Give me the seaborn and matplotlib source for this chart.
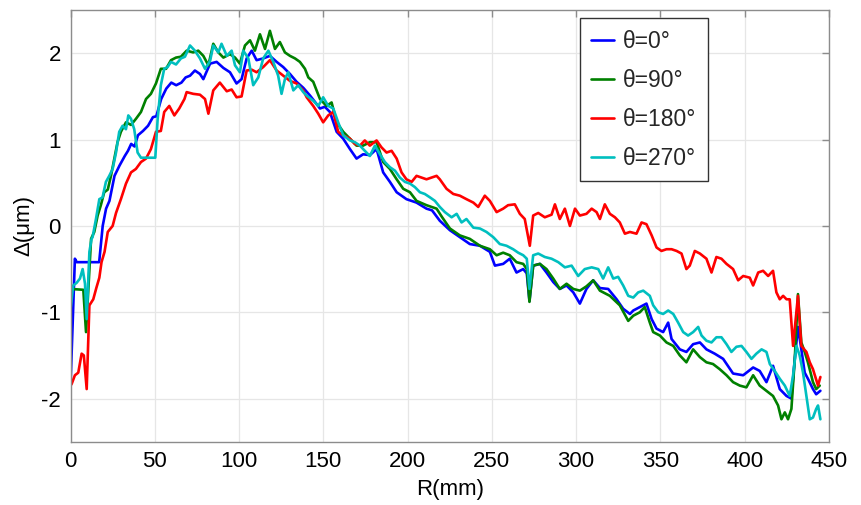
import numpy as np
import pandas as pd
import matplotlib
matplotlib.use("Agg")
import matplotlib.pyplot as plt
import seaborn as sns

labels = ["θ=0°", "θ=90°", "θ=180°", "θ=270°"]
colors = ["#0000FF", "#008000", "#FF0000", "#00BFBF"]
x_ticks = [0, 50, 100, 150, 200, 250, 300, 350, 400, 450]
y_ticks = [-2, -1, 0, 1, 2]

r_0 = [0, 2.6, 3.7, 17.0, 19.1, 21.1, 23.1, 26.1, 29.1, 32.2, 34.1, 36.0, 38.0, 40.0, 43.0, 46.0,
       48.9, 50.9, 53.8, 56.8, 59.8, 62.7, 65.8, 68.3, 70.9, 73.8, 76.8, 78.8, 82.8, 86.7, 90.7,
       94.6, 98.5, 101.5, 104.5, 107.5, 110.4, 114.3, 118.3, 122.3, 126.2, 130.2, 134.1, 138.1,
       142.1, 144.9, 148.0, 150.9, 153.9, 157.9, 161.8, 165.8, 169.7, 173.6, 177.6, 181.6, 185.5,
       189.5, 193.5, 199.3, 205.3, 211.2, 214.5, 219.1, 225.1, 231.0, 236.9, 242.9, 248.8, 251.8,
       256.7, 260.6, 264.6, 268.6, 270.7, 272.3, 274.5, 278.5, 282.4, 286.4, 290.3, 294.3, 298.3,
       302.2, 306.1, 310.1, 314.1, 319.0, 324.0, 327.9, 331.9, 333.9, 337.8, 341.7, 344.8, 347.7,
       351.6, 354.6, 356.6, 361.5, 365.4, 369.4, 373.4, 377.3, 382.2, 387.2, 393.1, 399.1, 405.0,
       408.9, 412.9, 416.8, 420.8, 424.8, 427.7, 429.7, 431.6, 433.6, 435.6, 437.5, 440.5, 442.4,
       444.9]
d_0 = [-1.85, -0.38, -0.42, -0.42, 0.0, 0.20, 0.29, 0.58, 0.70, 0.81, 0.87, 0.95, 0.92, 1.05, 1.10,
       1.16, 1.26, 1.27, 1.47, 1.59, 1.66, 1.63, 1.66, 1.72, 1.74, 1.80, 1.76, 1.70, 1.88, 1.90,
       1.83, 1.78, 1.65, 1.70, 1.94, 2.03, 1.92, 1.94, 1.97, 1.90, 1.84, 1.76, 1.67, 1.60, 1.51,
       1.44, 1.36, 1.38, 1.32, 1.09, 1.01, 0.89, 0.78, 0.83, 0.82, 0.89, 0.62, 0.51, 0.39, 0.31,
       0.27, 0.20, 0.18, 0.06, -0.05, -0.13, -0.21, -0.23, -0.30, -0.46, -0.44, -0.38, -0.54, -0.50,
       -0.55, -0.87, -0.46, -0.44, -0.54, -0.65, -0.73, -0.69, -0.77, -0.90, -0.73, -0.63, -0.72,
       -0.73, -0.85, -0.96, -1.02, -0.98, -0.94, -0.90, -1.08, -1.19, -1.23, -1.12, -1.31, -1.43,
       -1.46, -1.37, -1.35, -1.43, -1.48, -1.54, -1.71, -1.73, -1.64, -1.68, -1.81, -1.62, -1.89,
       -1.97, -2.00, -1.54, -1.17, -1.43, -1.70, -1.77, -1.89, -1.95, -1.91]

r_90 = [0, 7.6, 9.2, 12.2, 14.1, 16.1, 18.0, 20.0, 22.1, 24.0, 26.0, 27.9, 29.9, 32.9, 35.9, 38.8,
        41.8, 44.8, 47.7, 50.7, 53.6, 56.7, 59.6, 62.6, 65.5, 68.9, 72.8, 75.8, 78.8, 81.8, 84.7,
        87.7, 90.7, 94.6, 97.6, 100.5, 103.5, 106.5, 109.4, 112.4, 115.4, 118.3, 121.3, 124.2,
        127.2, 130.2, 133.2, 136.1, 139.1, 141.1, 144.0, 148.0, 151.9, 154.9, 157.9, 161.8, 165.8,
        169.7, 173.6, 177.6, 181.6, 185.5, 189.5, 193.5, 197.4, 201.4, 205.3, 211.2, 217.2, 220.5,
        225.1, 231.0, 236.9, 242.9, 248.8, 252.8, 256.7, 260.6, 264.6, 268.6, 270.7, 272.3, 274.5,
        278.5, 282.4, 286.4, 290.3, 294.3, 298.3, 302.2, 306.1, 310.1, 314.1, 320.0, 325.9, 330.9,
        333.9, 337.8, 340.7, 343.7, 345.7, 349.7, 353.6, 357.6, 361.5, 365.4, 369.4, 373.4, 377.3,
        381.2, 385.2, 389.2, 393.1, 397.1, 401.0, 405.0, 408.9, 412.9, 416.8, 419.8, 421.8, 423.8,
        425.7, 427.7, 429.7, 431.6, 433.6, 435.6, 437.5, 440.5, 442.4, 444.5]
d_90 = [-0.73, -0.74, -1.23, -0.15, -0.07, 0.12, 0.24, 0.39, 0.42, 0.58, 0.78, 0.97, 1.09, 1.20,
        1.17, 1.24, 1.32, 1.47, 1.53, 1.65, 1.82, 1.82, 1.92, 1.95, 1.96, 2.03, 2.01, 2.03, 1.97,
        1.86, 2.11, 2.01, 1.95, 1.99, 1.95, 1.88, 2.09, 2.15, 2.03, 2.22, 2.05, 2.26, 2.05, 2.13,
        2.01, 1.97, 1.94, 1.90, 1.82, 1.72, 1.67, 1.47, 1.39, 1.43, 1.20, 1.09, 1.01, 0.93, 0.93,
        0.97, 0.97, 0.74, 0.66, 0.54, 0.43, 0.39, 0.29, 0.24, 0.20, 0.10, -0.03, -0.11, -0.15,
        -0.23, -0.27, -0.34, -0.31, -0.34, -0.42, -0.44, -0.50, -0.88, -0.46, -0.44, -0.50, -0.61,
        -0.73, -0.67, -0.73, -0.75, -0.70, -0.63, -0.75, -0.81, -0.92, -1.10, -1.04, -1.00, -0.94,
        -1.12, -1.23, -1.27, -1.35, -1.39, -1.50, -1.58, -1.43, -1.52, -1.58, -1.60, -1.66, -1.73,
        -1.81, -1.85, -1.87, -1.73, -1.85, -1.91, -1.97, -2.08, -2.24, -2.16, -2.24, -2.12, -1.54,
        -0.79, -1.35, -1.46, -1.58, -1.81, -1.89, -1.85]

r_180 = [0, 0.7, 2.6, 4.6, 6.6, 7.9, 9.6, 11.2, 13.5, 15.3, 17.1, 18.4, 20.2, 22.1, 25.0, 27.0,
         29.9, 32.9, 35.9, 38.8, 41.8, 44.8, 47.7, 50.7, 53.6, 55.6, 58.6, 61.6, 64.5, 67.6, 68.9,
         72.8, 76.8, 79.8, 81.8, 84.7, 88.6, 92.7, 95.6, 98.5, 101.5, 104.5, 107.5, 110.4, 114.3,
         118.3, 122.3, 126.2, 130.2, 134.1, 138.1, 140.1, 144.0, 147.0, 149.9, 152.9, 155.9, 158.8,
         161.8, 165.8, 168.7, 171.7, 174.6, 177.6, 181.6, 184.5, 187.5, 190.5, 193.5, 196.4, 199.3,
         202.4, 205.3, 208.3, 211.2, 214.2, 217.2, 219.1, 223.1, 227.1, 231.0, 234.9, 239.0, 241.9,
         245.8, 248.8, 252.8, 256.7, 259.6, 263.6, 266.6, 269.5, 272.5, 274.5, 277.5, 281.4, 285.4,
         287.4, 290.3, 293.3, 296.3, 299.3, 302.2, 306.1, 309.2, 312.1, 314.1, 317.0, 320.0, 323.0,
         325.9, 328.9, 331.9, 335.8, 338.8, 341.7, 344.8, 347.7, 350.6, 353.6, 356.6, 359.6, 362.5,
         365.4, 367.4, 370.4, 373.4, 377.3, 380.3, 383.2, 386.2, 389.2, 393.1, 396.1, 399.1, 403.0,
         405.0, 408.0, 410.9, 413.9, 416.8, 418.8, 420.8, 422.8, 424.8, 426.7, 428.7, 431.6, 433.6,
         436.6, 438.6, 440.5, 443.5, 444.9]
d_180 = [-1.85, -1.83, -1.73, -1.70, -1.48, -1.50, -1.89, -0.92, -0.85, -0.72, -0.60, -0.42, -0.30,
         -0.07, 0.0, 0.15, 0.31, 0.49, 0.62, 0.66, 0.74, 0.78, 0.89, 1.09, 1.10, 1.32, 1.39, 1.28,
         1.36, 1.47, 1.55, 1.53, 1.52, 1.47, 1.30, 1.57, 1.66, 1.56, 1.58, 1.49, 1.50, 1.80, 1.81,
         1.78, 1.84, 1.92, 1.80, 1.74, 1.68, 1.65, 1.57, 1.49, 1.39, 1.30, 1.20, 1.28, 1.32, 1.09,
         1.05, 1.01, 0.95, 0.93, 0.99, 0.93, 0.99, 0.91, 0.85, 0.87, 0.78, 0.62, 0.54, 0.51, 0.58,
         0.56, 0.54, 0.56, 0.58, 0.54, 0.43, 0.37, 0.35, 0.31, 0.27, 0.22, 0.35, 0.29, 0.16, 0.20,
         0.24, 0.25, 0.14, 0.08, -0.23, 0.12, 0.15, 0.10, 0.13, 0.25, 0.08, 0.20, 0.0, 0.20, 0.12,
         0.14, 0.20, 0.16, 0.08, 0.25, 0.14, 0.10, 0.04, -0.09, -0.07, -0.09, 0.04, 0.02, -0.11,
         -0.25, -0.29, -0.27, -0.27, -0.29, -0.32, -0.50, -0.46, -0.29, -0.32, -0.38, -0.54, -0.36,
         -0.38, -0.44, -0.50, -0.63, -0.58, -0.60, -0.69, -0.54, -0.52, -0.58, -0.52, -0.77, -0.85,
         -0.81, -0.85, -0.85, -1.39, -0.81, -1.39, -1.46, -1.58, -1.66, -1.85, -1.75]

r_270 = [0.2, 1.6, 3.6, 5.6, 7.2, 8.6, 9.6, 11.2, 12.5, 13.1, 15.1, 17.1, 19.0, 21.0, 23.0, 25.0,
         27.0, 28.9, 30.9, 32.9, 34.3, 35.9, 37.8, 39.8, 41.8, 46.8, 50.3, 51.7, 53.6, 55.6, 57.6,
         59.6, 62.6, 65.5, 67.9, 70.9, 73.8, 76.8, 79.8, 82.8, 84.7, 87.7, 89.6, 92.7, 95.6, 97.6,
         100.5, 102.5, 105.5, 108.4, 111.4, 114.3, 117.4, 120.3, 123.2, 125.2, 127.2, 129.2, 132.2,
         135.1, 138.1, 140.1, 144.0, 147.0, 149.9, 152.9, 155.9, 158.8, 161.8, 165.8, 168.7, 171.7,
         174.6, 177.6, 180.6, 183.6, 186.5, 189.5, 192.5, 195.4, 198.4, 201.4, 204.3, 207.3, 210.2,
         213.3, 216.2, 219.1, 222.1, 226.1, 229.1, 232.0, 234.9, 239.0, 242.9, 246.8, 250.8, 254.7,
         258.7, 262.6, 265.6, 268.6, 270.7, 272.3, 274.5, 277.5, 281.4, 285.4, 289.4, 293.3, 297.3,
         301.2, 305.1, 309.2, 313.1, 316.0, 319.0, 322.0, 324.9, 327.9, 330.9, 333.9, 336.8, 339.8,
         343.7, 345.7, 348.7, 351.6, 354.6, 357.6, 360.5, 363.5, 366.4, 369.4, 372.4, 374.4, 377.3,
         380.3, 383.2, 386.2, 389.2, 392.1, 395.1, 398.1, 401.0, 404.0, 406.9, 410.0, 412.9, 414.9,
         417.8, 420.8, 423.8, 426.7, 428.7, 430.7, 432.6, 434.6, 436.6, 438.6, 440.5, 442.4, 443.5,
         444.9]
d_270 = [-0.94, -0.69, -0.66, -0.61, -0.50, -0.67, -1.08, -0.30, -0.15, -0.13, 0.08, 0.31, 0.33,
         0.51, 0.58, 0.66, 0.85, 1.09, 1.16, 1.12, 1.28, 1.24, 1.12, 0.85, 0.79, 0.79, 0.79, 1.24,
         1.63, 1.82, 1.84, 1.90, 1.87, 1.94, 1.96, 2.09, 2.03, 1.94, 1.82, 1.91, 2.09, 2.01, 2.11,
         1.97, 2.03, 1.86, 1.78, 2.03, 1.94, 1.63, 1.72, 1.94, 2.03, 1.90, 1.74, 1.53, 1.70, 1.78,
         1.57, 1.63, 1.55, 1.51, 1.45, 1.39, 1.49, 1.39, 1.36, 1.20, 1.05, 0.99, 0.97, 0.93, 0.87,
         0.81, 0.93, 0.83, 0.74, 0.68, 0.64, 0.56, 0.51, 0.49, 0.45, 0.39, 0.37, 0.33, 0.29, 0.22,
         0.16, 0.10, 0.14, 0.04, 0.08, -0.02, -0.03, -0.07, -0.13, -0.21, -0.23, -0.27, -0.31, -0.34,
         -0.38, -0.73, -0.34, -0.32, -0.36, -0.38, -0.42, -0.48, -0.46, -0.58, -0.50, -0.48, -0.50,
         -0.61, -0.48, -0.61, -0.59, -0.69, -0.81, -0.83, -0.77, -0.75, -0.81, -0.92, -1.00, -1.02,
         -0.98, -1.02, -1.12, -1.23, -1.27, -1.23, -1.17, -1.27, -1.33, -1.35, -1.29, -1.29, -1.37,
         -1.46, -1.40, -1.39, -1.46, -1.54, -1.48, -1.43, -1.46, -1.60, -1.68, -1.77, -1.85, -1.97,
         -1.73, -1.39, -1.50, -1.70, -1.97, -2.24, -2.22, -2.12, -2.08, -2.24]

series_r = [r_0, r_90, r_180, r_270]
series_d = [d_0, d_90, d_180, d_270]
frames = [pd.DataFrame({"R": r, "D": d, "theta": lab})
          for r, d, lab in zip(series_r, series_d, labels)]
df = pd.concat(frames, ignore_index=True)

sns.set_theme(style="white")
plt.rcParams["font.family"] = ["Liberation Sans", "DejaVu Sans"]
plt.rcParams["axes.unicode_minus"] = False

fig = plt.figure(figsize=(8.62, 5.05), dpi=100)
ax = fig.add_axes([0.0818, 0.1253, 0.9617 - 0.0818, 0.980 - 0.1253])

sns.lineplot(data=df, x="R", y="D", hue="theta", hue_order=labels,
             palette=dict(zip(labels, colors)), estimator=None, sort=False,
             linewidth=1.9, ax=ax)

ax.set_xlim(0, 450)
ax.set_ylim(-2.5, 2.5)
ax.set_xticks(x_ticks)
ax.set_yticks(y_ticks)
ax.grid(True, color="#e6e6e6", linewidth=0.9)
ax.set_axisbelow(True)
for s in ax.spines.values():
    s.set_color("#8c8c8c")
    s.set_linewidth(1.0)
ax.tick_params(direction="in", top=True, right=True, length=5, width=1,
               color="#8c8c8c", labelsize=16, labelcolor="black", pad=7)
ax.set_xlabel("R(mm)", fontsize=16, color="black", labelpad=5)
ax.set_ylabel("Δ(μm)", fontsize=16, color="black", labelpad=5)

handles, labs = ax.get_legend_handles_labels()
leg = ax.legend(handles, labs, loc="upper right", bbox_to_anchor=(0.8405, 0.9815),
                borderaxespad=0, frameon=True, fancybox=False, framealpha=1,
                edgecolor="#333333", fontsize=16.5, handlelength=1.0,
                labelspacing=0.7, borderpad=0.5, handletextpad=0.4)
leg.get_frame().set_linewidth(1.0)
for line in leg.get_lines():
    line.set_linewidth(1.9)

fig.savefig("out.png", dpi=100)
